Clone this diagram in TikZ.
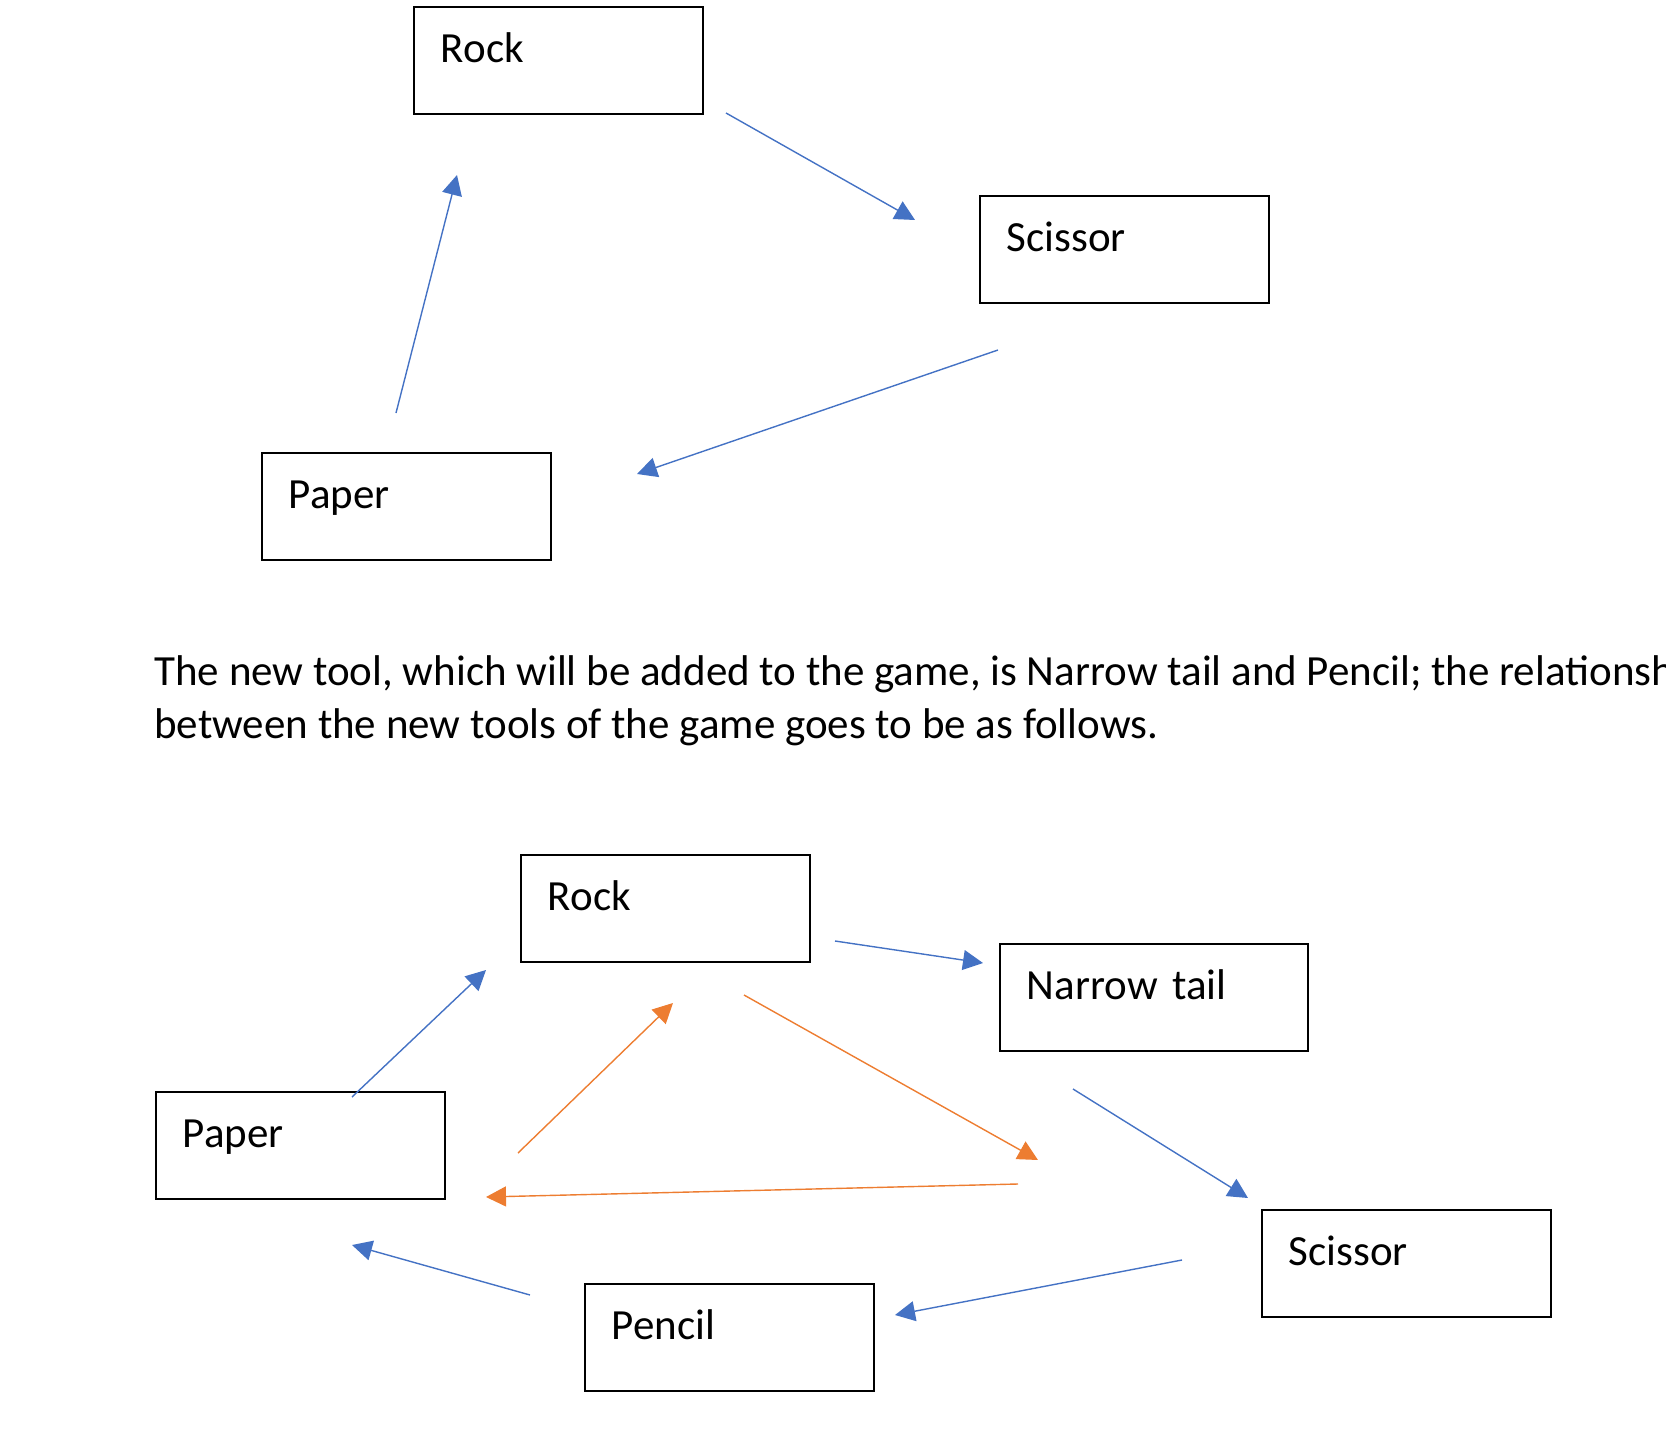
\documentclass[tikz,border=0pt]{standalone}
\usepackage{fontspec}
\setmainfont{Carlito}
\usetikzlibrary{arrows.meta}
\definecolor{beatblue}{RGB}{68,114,196}
\definecolor{beatorange}{RGB}{237,125,49}
\begin{document}
\begin{tikzpicture}[x=0.5pt, y=-0.5pt, font=\fontsize{21.5}{26.5}\selectfont,
  tool/.style={draw, line width=0.9pt, anchor=north west, inner xsep=13.5pt, inner ysep=0pt,
    text height=28pt, text depth=25.5pt, text width=117.5pt, align=left},
  beats/.style={-{Triangle[length=10pt,width=10pt]}, line width=0.7pt, beatblue},
  newbeats/.style={beats, beatorange}]
\useasboundingbox (0,0) rectangle (1666,1434);
\clip (0,0) rectangle (1666,1434);

% old game
\node[tool] (rockA) at (413,6) {Rock};
\node[tool] (scissorA) at (979,195) {Scissor};
\node[tool] (paperA) at (261,452) {Paper};

\coordinate (rsA1) at (726,113);  \coordinate (rsA2) at (915,220);
\coordinate (spA1) at (998,350);  \coordinate (spA2) at (637,474);
\coordinate (prA1) at (396,413);  \coordinate (prA2) at (457,175);
\draw[beats] (rsA1) -- (rsA2);
\draw[beats] (spA1) -- (spA2);
\draw[beats] (prA1) -- (prA2);

\node[anchor=base west, inner sep=0pt] (lineA) at (154,685) {The new tool, which will be added to the game, is Narrow tail and Pencil; the relationship};
\node[anchor=base west, inner sep=0pt] (lineB) at (154,738) {between the new tools of the game goes to be as follows.};

% new game
\node[tool] (rockB) at (520,854) {Rock};
\node[tool, text width=127pt] (narrow) at (999,943) {Narrow tail};
\node[tool] (paperB) at (155,1091) {Paper};
\node[tool] (scissorB) at (1261,1209) {Scissor};
\node[tool] (pencil) at (584,1283) {Pencil};

\coordinate (prB1) at (352,1097);  \coordinate (prB2) at (486,970);
\coordinate (rn1) at (835,941);    \coordinate (rn2) at (983,963);
\coordinate (ns1) at (1073,1089);  \coordinate (ns2) at (1248,1198);
\coordinate (sp1) at (1182,1260);  \coordinate (sp2) at (895,1315);
\coordinate (pp1) at (530,1295);   \coordinate (pp2) at (352,1245);
\draw[beats] (prB1) -- (prB2);
\draw[beats] (rn1) -- (rn2);
\draw[beats] (ns1) -- (ns2);
\draw[beats] (sp1) -- (sp2);
\draw[beats] (pp1) -- (pp2);

\coordinate (or1) at (518,1153);   \coordinate (or2) at (673,1003);
\coordinate (ro1) at (744,995);    \coordinate (ro2) at (1038,1160);
\coordinate (oo1) at (1018,1184);  \coordinate (oo2) at (486,1197);
\draw[newbeats] (or1) -- (or2);
\draw[newbeats] (ro1) -- (ro2);
\draw[newbeats] (oo1) -- (oo2);
\end{tikzpicture}
\end{document}
